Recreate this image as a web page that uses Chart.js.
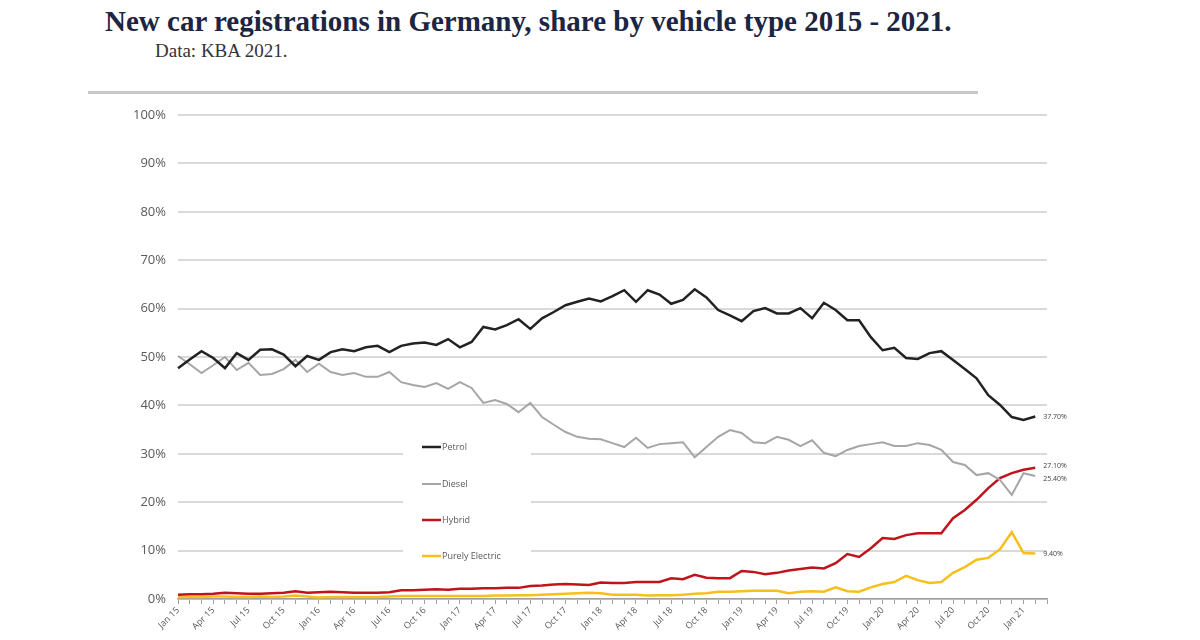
<!DOCTYPE html>
<html>
<head>
<meta charset="utf-8">
<script src="https://cdn.jsdelivr.net/npm/chart.js@4/dist/chart.umd.min.js"></script>
<style>
  body { margin: 0; background: #fff; }
  #wrap { position: relative; width: 1200px; height: 640px; overflow: hidden; }
  #title { position: absolute; left: 105px; top: 5px; font: bold 29px "Liberation Serif", serif; color: #1c2541; white-space: nowrap; }
  #sub { position: absolute; left: 155px; top: 40px; font: 19px "Liberation Serif", serif; color: #333; white-space: nowrap; }
  #rule { position: absolute; left: 88px; top: 91px; width: 890px; height: 3px; background: #c8c8c8; }
  canvas { position: absolute; left: 0; top: 0; }
</style>
</head>
<body>
<div id="wrap">
  <div id="title">New car registrations in Germany, share by vehicle type 2015 - 2021.</div>
  <div id="sub">Data: KBA 2021.</div>
  <div id="rule"></div>
  <canvas id="chart" width="1200" height="640"></canvas>
</div>
<script>
// months Jan 15 .. Mar 21 (last slot stays empty, like the original axis)
const months = [
  "Jan 15","Feb 15","Mar 15","Apr 15","May 15","Jun 15","Jul 15","Aug 15","Sep 15","Oct 15","Nov 15","Dec 15",
  "Jan 16","Feb 16","Mar 16","Apr 16","May 16","Jun 16","Jul 16","Aug 16","Sep 16","Oct 16","Nov 16","Dec 16",
  "Jan 17","Feb 17","Mar 17","Apr 17","May 17","Jun 17","Jul 17","Aug 17","Sep 17","Oct 17","Nov 17","Dec 17",
  "Jan 18","Feb 18","Mar 18","Apr 18","May 18","Jun 18","Jul 18","Aug 18","Sep 18","Oct 18","Nov 18","Dec 18",
  "Jan 19","Feb 19","Mar 19","Apr 19","May 19","Jun 19","Jul 19","Aug 19","Sep 19","Oct 19","Nov 19","Dec 19",
  "Jan 20","Feb 20","Mar 20","Apr 20","May 20","Jun 20","Jul 20","Aug 20","Sep 20","Oct 20","Nov 20","Dec 20",
  "Jan 21","Feb 21","Mar 21"
];

const seriesNames = ["Petrol", "Diesel", "Hybrid", "Purely Electric"];

const petrol = [
  47.7, 49.5, 51.2, 49.8, 47.7, 50.8, 49.4, 51.5, 51.6, 50.5, 48.1, 50.2,
  49.4, 51.0, 51.6, 51.2, 52.0, 52.3, 51.0, 52.3, 52.8, 53.0, 52.5, 53.7,
  52.0, 53.1, 56.2, 55.7, 56.6, 57.8, 55.8, 58.0, 59.3, 60.7, 61.4, 62.1,
  61.5, 62.6, 63.8, 61.4, 63.8, 62.9, 61.0, 61.8, 64.0, 62.3, 59.7, 58.6,
  57.4, 59.5, 60.1, 59.0, 59.0, 60.1, 58.0, 61.2, 59.7, 57.6, 57.6, 54.1,
  51.4, 51.9, 49.8, 49.6, 50.8, 51.2, 49.4, 47.5, 45.6, 42.1, 40.1, 37.6,
  37.0, 37.7
];

const diesel = [
  50.2, 48.5, 46.7, 48.3, 50.0, 47.3, 48.8, 46.3, 46.5, 47.5, 49.4, 46.9,
  48.6, 46.9, 46.3, 46.7, 45.9, 45.9, 46.9, 44.8, 44.2, 43.8, 44.6, 43.4,
  44.8, 43.6, 40.5, 41.1, 40.3, 38.6, 40.5, 37.6, 36.0, 34.5, 33.5, 33.1,
  33.0, 32.2, 31.4, 33.3, 31.2, 32.0, 32.2, 32.4, 29.3, 31.4, 33.5, 34.9,
  34.3, 32.4, 32.2, 33.5, 32.9, 31.6, 32.8, 30.2, 29.5, 30.8, 31.6, 32.0,
  32.4, 31.6, 31.6, 32.2, 31.8, 30.8, 28.3, 27.7, 25.6, 26.0, 24.6, 21.5,
  26.0, 25.4
];

const hybrid = [
  0.9, 1.0, 1.0, 1.1, 1.3, 1.2, 1.1, 1.1, 1.2, 1.3, 1.6, 1.3,
  1.4, 1.5, 1.4, 1.3, 1.3, 1.3, 1.4, 1.8, 1.8, 1.9, 2.0, 1.9,
  2.1, 2.1, 2.2, 2.2, 2.3, 2.3, 2.7, 2.8, 3.0, 3.1, 3.0, 2.9,
  3.4, 3.3, 3.3, 3.5, 3.5, 3.5, 4.3, 4.1, 5.0, 4.4, 4.3, 4.3,
  5.8, 5.6, 5.1, 5.4, 5.9, 6.2, 6.5, 6.3, 7.4, 9.3, 8.7, 10.5,
  12.6, 12.4, 13.2, 13.6, 13.6, 13.6, 16.7, 18.4, 20.5, 22.9, 25.0, 26.0,
  26.7, 27.1
];

const electric = [
  0.4, 0.4, 0.4, 0.5, 0.5, 0.4, 0.4, 0.5, 0.4, 0.5, 0.7, 0.5,
  0.3, 0.4, 0.4, 0.4, 0.4, 0.4, 0.5, 0.6, 0.6, 0.6, 0.6, 0.6,
  0.6, 0.6, 0.6, 0.7, 0.7, 0.8, 0.8, 0.9, 1.0, 1.1, 1.2, 1.3,
  1.2, 0.9, 0.9, 0.9, 0.7, 0.8, 0.8, 0.9, 1.1, 1.2, 1.5, 1.5,
  1.6, 1.7, 1.7, 1.7, 1.2, 1.5, 1.6, 1.5, 2.4, 1.6, 1.5, 2.4,
  3.1, 3.5, 4.8, 3.9, 3.3, 3.5, 5.4, 6.6, 8.1, 8.5, 10.3, 13.8,
  9.5, 9.4
];

// labels written next to the last point
const endLabels = ["37.70%", "25.40%", "27.10%", "9.40%"];

const yTicks = [0, 10, 20, 30, 40, 50, 60, 70, 80, 90, 100];

const colors = ["#222222", "#a6a6a6", "#c0141c", "#f7bf1a"];
const widths = [2.5, 2, 2.5, 2.5];

const allSeries = [petrol, diesel, hybrid, electric];

const decor = {
  id: "decor",
  afterDraw(chart) {
    const ctx = chart.ctx;
    ctx.save();

    // end labels
    ctx.font = "7px 'Open Sans', sans-serif";
    ctx.fillStyle = "#404040";
    ctx.textBaseline = "middle";
    ctx.textAlign = "left";
    chart.data.datasets.forEach((ds, i) => {
      const pts = chart.getDatasetMeta(i).data;
      const p = pts[pts.length - 1];
      let y = p.y;
      if (i === 1) y += 3;
      if (i === 2) y -= 2;
      ctx.fillText(endLabels[i], p.x + 8, y);
    });

    // legend inside the plot
    ctx.fillStyle = "#ffffff";
    ctx.fillRect(403, 432, 128, 138);
    const rows = [447, 484, 520, 556];
    ctx.font = "9px 'Open Sans', sans-serif";
    chart.data.datasets.forEach((ds, i) => {
      ctx.strokeStyle = ds.borderColor;
      ctx.lineWidth = ds.borderWidth;
      ctx.beginPath();
      ctx.moveTo(422, rows[i]);
      ctx.lineTo(441, rows[i]);
      ctx.stroke();
      ctx.fillStyle = "#595959";
      ctx.fillText(ds.label, 442, rows[i]);
    });

    ctx.restore();
  }
};

new Chart(document.getElementById("chart"), {
  type: "line",
  data: {
    labels: months,
    datasets: allSeries.map((s, i) => ({
      label: seriesNames[i],
      data: s,
      borderColor: colors[i],
      backgroundColor: colors[i],
      borderWidth: widths[i],
      pointRadius: 0,
      tension: 0,
      fill: false
    }))
  },
  options: {
    responsive: false,
    animation: false,
    layout: { padding: { top: 115, right: 153, left: 0, bottom: 0 } },
    plugins: {
      legend: { display: false },
      tooltip: { enabled: false }
    },
    scales: {
      x: {
        offset: false,
        afterFit(scale) { scale.height = 41; },
        grid: {
          display: true,
          drawOnChartArea: false,
          drawTicks: true,
          tickLength: 5,
          color: "#a0a0a0",
          lineWidth: 1
        },
        border: { display: true, color: "#a0a0a0", width: 1.5 },
        ticks: {
          autoSkip: false,
          maxRotation: 45,
          minRotation: 45,
          padding: 1,
          color: "#595959",
          font: { family: "'Open Sans', sans-serif", size: 9 },
          callback(v, i) {
            return (i % 3 === 0 && i <= 72) ? months[i] : "";
          }
        }
      },
      y: {
        min: 0,
        max: 100,
        afterFit(scale) { scale.width = 178; },
        afterBuildTicks(scale) { scale.ticks = yTicks.map(v => ({ value: v })); },
        grid: { color: "#d9d9d9", lineWidth: 2, drawTicks: false },
        border: { display: false },
        ticks: {
          padding: 12,
          color: "#595959",
          font: { family: "'Open Sans', sans-serif", size: 13 },
          callback: v => v + "%"
        }
      }
    }
  },
  plugins: [decor]
});
</script>
</body>
</html>
